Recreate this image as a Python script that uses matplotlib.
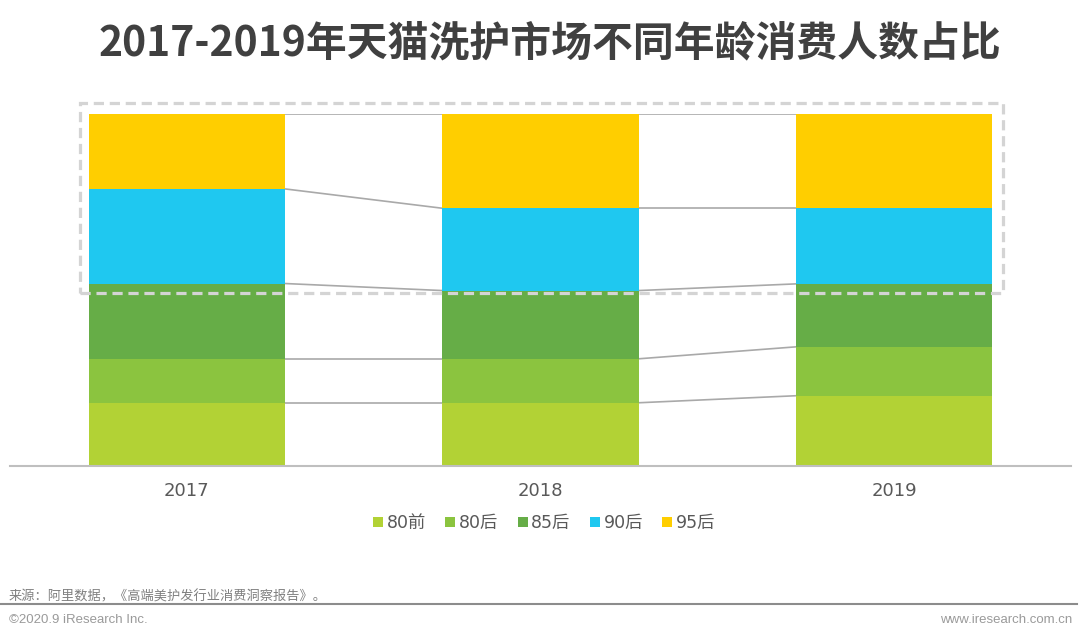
import numpy as np
import matplotlib.pyplot as plt
from matplotlib.lines import Line2D
from matplotlib.patches import Rectangle

years = ["2017", "2018", "2019"]
groups = ["80前", "80后", "85后", "90后", "95后"]
colors = ["#B2D235", "#8BC43F", "#66AD47", "#1FC8F0", "#FFCE00"]

# share of consumers (%)
share_80before = [17.9, 17.9, 19.9]
share_80after = [12.5, 12.5, 13.9]
share_85after = [21.4, 19.4, 17.9]
share_90after = [26.9, 23.4, 21.5]
share_95after = [21.3, 26.8, 26.8]

title = "2017-2019年天猫洗护市场不同年龄消费人数占比"
source = "来源：阿里数据，《高端美护发行业消费洞察报告》。"

series = [share_80before, share_80after, share_85after, share_90after, share_95after]
data = np.array(series)

cjk = ["Noto Sans CJK SC", "DejaVu Sans"]
mixed = ["DejaVu Sans", "Noto Sans CJK SC"]

fig = plt.figure(figsize=(10.8, 6.4), dpi=100)
ax = fig.add_axes([0.00926, 0.2723, 0.9824, 0.5496])

x = np.arange(len(years))
width = 0.555
bottom = np.zeros(len(years))
for vals, col, name in zip(data, colors, groups):
    ax.bar(x, vals, width, bottom=bottom, color=col, label=name, zorder=2)
    bottom = bottom + vals

# connector lines between stacked boundaries
cum = np.cumsum(data, axis=0)
for level in cum:
    for i in range(len(years) - 1):
        ax.plot([x[i] + width / 2, x[i + 1] - width / 2], [level[i], level[i + 1]],
                color="#a9a9a9", lw=1.2, zorder=1, solid_capstyle="butt")

# dashed highlight box around 90后 + 95后
box = Rectangle((-0.303, 49.2), 2.611, 54.0, fill=False, edgecolor="#d4d4d4",
                lw=2.3, linestyle=(0, (3.2, 1.8)), zorder=3, clip_on=False)
ax.add_patch(box)

ax.set_xlim(-0.5, 2.5)
ax.set_ylim(0, 100)
ax.set_yticks([])
ax.set_xticks(x)
ax.set_xticklabels(years, fontsize=13, color="#595959", family="DejaVu Sans")
ax.tick_params(axis="x", length=0, pad=12)
for side in ["left", "right", "top"]:
    ax.spines[side].set_visible(False)
ax.spines["bottom"].set_color("#bfbfbf")
ax.spines["bottom"].set_linewidth(1.5)
ax.spines["bottom"].set_zorder(4)

handles = [Line2D([], [], marker="s", linestyle="", markersize=6.5, color=c,
                  markeredgewidth=0) for c in colors]
fig.legend(handles, groups, loc="center", bbox_to_anchor=(0.503, 0.183), ncol=5,
           frameon=False, handletextpad=0.1, columnspacing=1.0, handlelength=0.8,
           prop={"family": mixed, "size": 12.5}, labelcolor="#595959")

fig.text(0.509, 0.932, title, ha="center", va="center", fontsize=29.4,
         fontweight="bold", color="#404040", family=cjk)

fig.text(0.008, 0.068, source, ha="left", va="center", fontsize=9.5,
         color="#808080", family=cjk)
fig.add_artist(Line2D([0.0, 0.997], [0.056, 0.056], color="#8c8c8c", lw=1.5))
fig.text(0.008, 0.031, "©2020.9 iResearch Inc.", ha="left", va="center",
         fontsize=9.5, color="#9a9a9a", family="Liberation Sans")
fig.text(0.993, 0.031, "www.iresearch.com.cn", ha="right", va="center",
         fontsize=9.5, color="#9a9a9a", family="Liberation Sans")

fig.savefig("out.png", dpi=100, facecolor="white")
